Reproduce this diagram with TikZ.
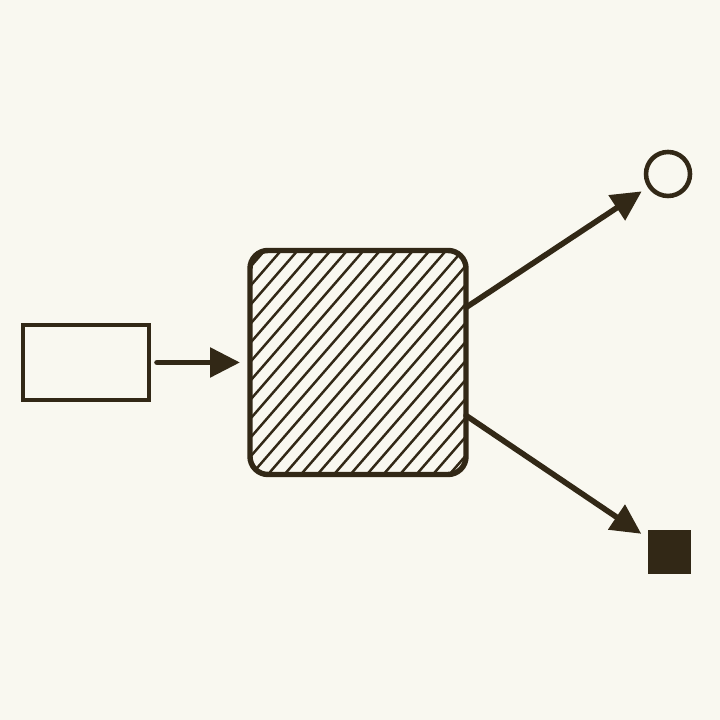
\documentclass[tikz,border=0pt]{standalone}
\usepackage{tikz}
\usetikzlibrary{shapes,arrows.meta}
\definecolor{paper}{RGB}{249,248,240}
\definecolor{ink}{RGB}{50,40,22}
\tikzstyle{source} = [rectangle, draw=ink, line width=1.2pt, minimum width=1.26cm, minimum height=0.75cm, inner sep=0pt, outer sep=0pt]
\tikzstyle{process} = [rectangle, draw=ink, line width=1.55pt, rounded corners=0.18cm, minimum width=2.16cm, minimum height=2.24cm, inner sep=0pt, outer sep=0pt]
\tikzstyle{ring} = [circle, draw=ink, line width=1.3pt, minimum size=0.44cm, inner sep=0pt, outer sep=0pt]
\tikzstyle{sink} = [rectangle, fill=ink, minimum width=0.43cm, minimum height=0.44cm, inner sep=0pt, outer sep=0pt]
\tikzstyle{flow} = [draw=ink, line width=1.6pt, line cap=round, -{Triangle[length=0.30cm, width=0.29cm]}]
\tikzstyle{hatch} = [draw=ink, line width=0.7pt]

\begin{document}
\begin{tikzpicture}[node distance=2.72cm]
   \fill[paper] (0,0) rectangle (7.2,7.2);
   % nodes
   \node[source] (src) at (0.86,3.575)                 {};
   \node[process] (proc) [right of=src]                 {};
   \node[ring] (out1) [right of=proc, xshift=0.38cm, yshift=1.885cm] {};
   \node[sink] (out2) [right of=proc, xshift=0.39cm, yshift=-1.90cm] {};

   % hatching
   \begin{scope}
      \clip[rounded corners=0.18cm] (proc.south west) rectangle (proc.north east);
      \foreach \k in {0,...,25}
         \draw[hatch] (-1.6+0.165*\k,0) -- ++(49:8);
   \end{scope}

   % edges
   \draw[flow, shorten <=0.08cm, shorten >=0.10cm] (src.east) to (proc.west);
   \draw[flow, shorten >=0.095cm] ([yshift=0.55cm]proc.east) to (out1);
   \draw[flow, shorten >=0.075cm] ([yshift=-0.53cm]proc.east) to (out2);
\end{tikzpicture}
\end{document}
